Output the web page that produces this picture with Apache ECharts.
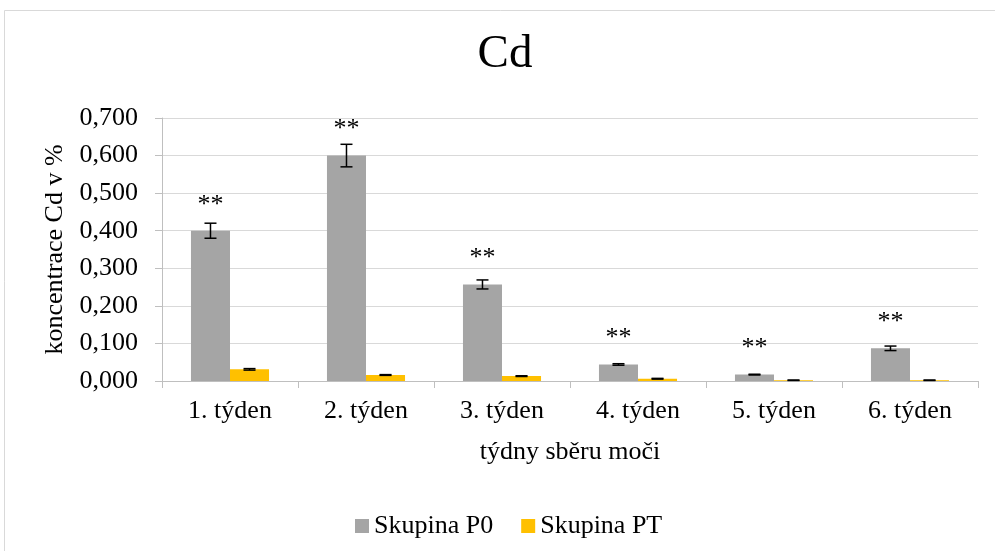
<!DOCTYPE html>
<html>
<head>
<meta charset="utf-8">
<script src="https://cdn.jsdelivr.net/npm/echarts@6/dist/echarts.min.js"></script>
<style>
  html, body { margin: 0; padding: 0; background: #fff; }
  #chart { width: 995px; height: 551px; }
</style>
</head>
<body>
<div id="chart"></div>
<script>
// Weekly urinary Cd concentration (%) for the two groups
const weeks = ['1. týden', '2. týden', '3. týden', '4. týden', '5. týden', '6. týden'];
const groupP0 = [0.400, 0.600, 0.257, 0.044, 0.017, 0.087];
const groupP0Err = [0.020, 0.030, 0.012, 0.002, 0.001, 0.006];
const groupPT = [0.031, 0.016, 0.013, 0.006, 0.002, 0.002];
const groupPTErr = [0.002, 0.001, 0.001, 0.001, 0.0005, 0.0005];
const significance = ['**', '**', '**', '**', '**', '**'];
const seriesNames = ['Skupina P0', 'Skupina PT'];

const FONT = '"Liberation Serif", "Times New Roman", serif';
const BAR_RATIO = 0.287;

// Error bars (and significance marks above the bar) drawn on the bar centres
function errorBars(values, errors, side, marks) {
  return {
    type: 'custom',
    silent: true,
    z: 5,
    data: values.map((v, i) => [i, v, errors[i]]),
    encode: { x: 0, y: 1 },
    renderItem: function (params, api) {
      const i = api.value(0), v = api.value(1), e = api.value(2);
      const band = api.size([1, 0])[0];
      const base = api.coord([i, v]);
      const cx = base[0] + side * band * BAR_RATIO / 2;
      const yTop = api.coord([i, v + e])[1];
      const yBot = api.coord([i, v - e])[1];
      const cap = 6;
      const st = { stroke: '#000', lineWidth: 1.5 };
      const children = [
        { type: 'line', shape: { x1: cx, y1: yTop, x2: cx, y2: yBot }, style: st },
        { type: 'line', shape: { x1: cx - cap, y1: yTop, x2: cx + cap, y2: yTop }, style: st },
        { type: 'line', shape: { x1: cx - cap, y1: yBot, x2: cx + cap, y2: yBot }, style: st }
      ];
      if (marks) {
        children.push({
          type: 'text',
          style: {
            x: cx, y: base[1] - 26, text: marks[i],
            font: '26px ' + FONT, fill: '#000',
            align: 'center', verticalAlign: 'middle'
          }
        });
      }
      return { type: 'group', children: children };
    }
  };
}

const chart = echarts.init(document.getElementById('chart'));
chart.setOption({
  animation: false,
  backgroundColor: '#fff',
  graphic: [{
    type: 'rect', silent: true, z: -10,
    shape: { x: 4.5, y: 10.5, width: 1000, height: 600 },
    style: { fill: '#fff', stroke: '#d9d9d9', lineWidth: 1 }
  }],
  title: {
    text: 'Cd',
    left: 500, top: 26,
    textAlign: 'center',
    textStyle: { fontFamily: FONT, fontSize: 47, fontWeight: 'normal', color: '#000' }
  },
  legend: {
    data: seriesNames,
    left: 350, top: 508,
    icon: 'rect', itemWidth: 14, itemHeight: 14, itemGap: 28,
    textStyle: { fontFamily: FONT, fontSize: 26, color: '#000' }
  },
  grid: { left: 162, right: 17, top: 118, bottom: 170, containLabel: false },
  xAxis: {
    type: 'category',
    data: weeks,
    name: 'týdny sběru moči',
    nameLocation: 'middle',
    nameGap: 58,
    nameTextStyle: { fontFamily: FONT, fontSize: 26, color: '#000' },
    axisLine: { lineStyle: { color: '#bfbfbf', width: 1 } },
    axisTick: { show: true, length: 7, lineStyle: { color: '#bfbfbf' } },
    axisLabel: { fontFamily: FONT, fontSize: 26, color: '#000', margin: 17 }
  },
  yAxis: {
    type: 'value',
    min: 0, max: 0.7, interval: 0.1,
    name: 'koncentrace Cd v %',
    nameLocation: 'middle',
    nameGap: 90,
    nameRotate: 90,
    nameTextStyle: { fontFamily: FONT, fontSize: 26, color: '#000' },
    axisLine: { show: true, lineStyle: { color: '#bfbfbf', width: 1 } },
    axisTick: { show: true, length: 7, lineStyle: { color: '#bfbfbf' } },
    splitLine: { lineStyle: { color: '#d9d9d9', width: 1 } },
    axisLabel: {
      fontFamily: FONT, fontSize: 26, color: '#000', margin: 24,
      formatter: v => v.toFixed(3).replace('.', ',')
    }
  },
  series: [
    {
      name: seriesNames[0], type: 'bar', data: groupP0,
      barWidth: (BAR_RATIO * 100) + '%', barGap: '0%',
      itemStyle: { color: '#a5a5a5' }
    },
    {
      name: seriesNames[1], type: 'bar', data: groupPT,
      barWidth: (BAR_RATIO * 100) + '%', barGap: '0%',
      itemStyle: { color: '#ffc000' }
    },
    errorBars(groupP0, groupP0Err, -1, significance),
    errorBars(groupPT, groupPTErr, 1, null)
  ]
});
</script>
</body>
</html>
